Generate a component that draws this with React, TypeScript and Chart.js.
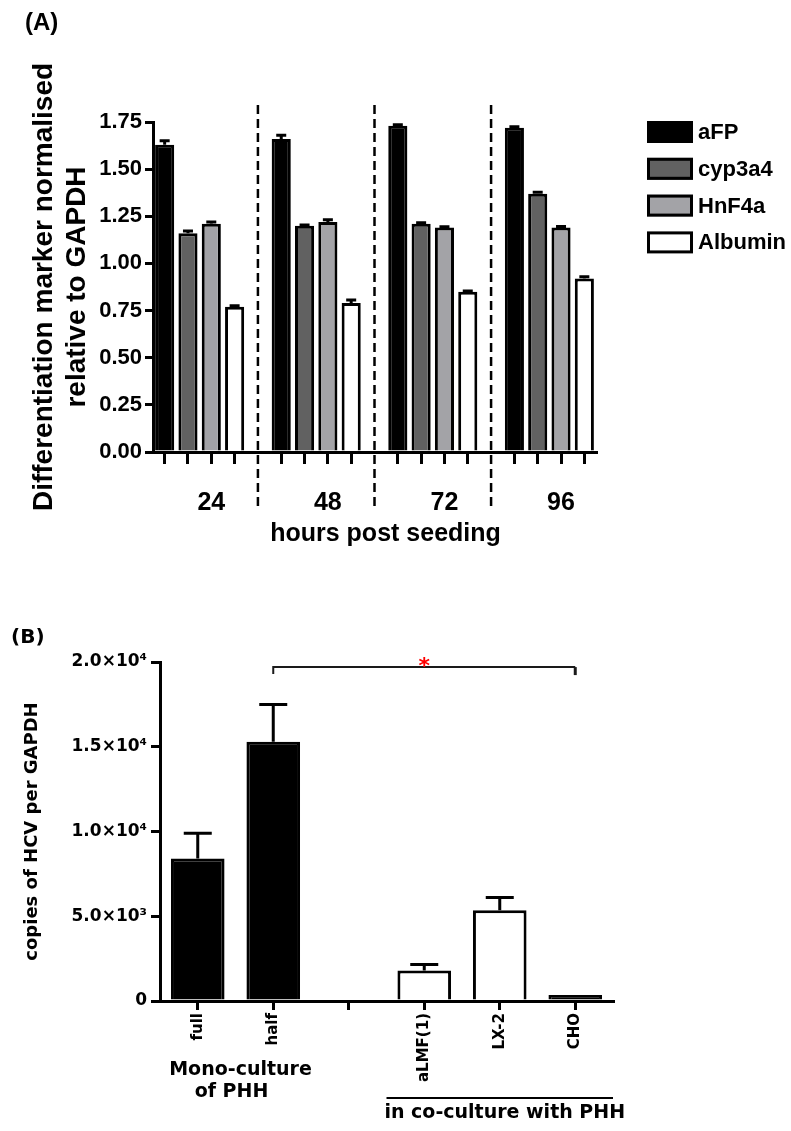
import React, { useEffect, useRef } from 'react';
import { Chart, registerables } from 'chart.js';

Chart.register(...registerables);

const SANS_A = '"Liberation Sans", Arial, Helvetica, sans-serif';
const SANS_B = '"DejaVu Sans", Verdana, sans-serif';

// ---------------- Panel A data ----------------
const hours = ['24', '48', '72', '96'];
const markers = ['aFP', 'cyp3a4', 'HnF4a', 'Albumin'];
const aFP = [1.63, 1.66, 1.73, 1.72];
const cyp3a4 = [1.16, 1.2, 1.21, 1.37];
const hnf4a = [1.21, 1.22, 1.19, 1.19];
const albumin = [0.77, 0.79, 0.85, 0.92];
const aFPErr = [0.02, 0.02, 0.006, 0.005];
const cyp3a4Err = [0.012, 0.004, 0.006, 0.008];
const hnf4aErr = [0.01, 0.012, 0.005, 0.006];
const albuminErr = [0.006, 0.016, 0.004, 0.01];
const markerColors = ['#000000', '#616161', '#a3a3a7', '#ffffff'];
const yMaxA = 1.75;
const yStepA = 0.25;
const xTitleA = 'hours post seeding';
const yTitleA = ['Differentiation marker normalised', 'relative to GAPDH'];

// ---------------- Panel B data ----------------
const conditions = ['full', 'half', '', 'aLMF(1)', 'LX-2', 'CHO'];
const hcvCopies: (number | null)[] = [8400, 15300, null, 1800, 5350, 350];
const hcvErr: (number | null)[] = [1500, 2200, null, 350, 750, 0];
const conditionColors = ['#000000', '#000000', '#ffffff', '#ffffff', '#ffffff', '#000000'];
const yTickValuesB = [0, 5000, 10000, 15000, 20000];
const yTickLabelsB = ['0', '5.0×10³', '1.0×10⁴', '1.5×10⁴', '2.0×10⁴'];
const yTitleB = 'copies of HCV per GAPDH';
const monoLabel = ['Mono-culture', 'of PHH'];
const coLabel = 'in co-culture with PHH';
const coGroup = [3, 5];
const monoGroup = [0, 1];
const bracket = { from: 1, to: 5, value: 19700, mark: '*' };

// ---------------- Panel A slot layout ----------------
const SLOTS_PER_GROUP = markers.length + 1;
const slotCount = hours.length * SLOTS_PER_GROUP - 1;
const slotLabels = Array.from({ length: slotCount }, (_, s) =>
  s % SLOTS_PER_GROUP === 2 ? hours[Math.floor(s / SLOTS_PER_GROUP)] : ''
);
const isGap = (s: number) => s % SLOTS_PER_GROUP === markers.length;
const toSlots = (vals: number[], m: number) =>
  Array.from({ length: slotCount }, (_, s) =>
    s % SLOTS_PER_GROUP === m ? vals[Math.floor(s / SLOTS_PER_GROUP)] : null
  );
const seriesA = [aFP, cyp3a4, hnf4a, albumin];
const errorsA = [aFPErr, cyp3a4Err, hnf4aErr, albuminErr];
const gapSlots = Array.from({ length: slotCount }, (_, s) => s).filter(isGap);

// ---------------- plugins ----------------
const errorBarsPlugin = {
  id: 'errorBars',
  afterDatasetsDraw(chart: any, _args: any, opts: any) {
    const { ctx } = chart;
    const yScale = chart.scales.y;
    chart.data.datasets.forEach((ds: any, d: number) => {
      const meta = chart.getDatasetMeta(d);
      meta.data.forEach((el: any, i: number) => {
        const v = ds.data[i];
        const e = ds.errors ? ds.errors[i] : null;
        if (v == null || !e) return;
        const top = yScale.getPixelForValue(v + e);
        ctx.save();
        ctx.strokeStyle = opts.color || '#000';
        ctx.lineWidth = opts.lineWidth || 3;
        ctx.beginPath();
        ctx.moveTo(el.x, el.y);
        ctx.lineTo(el.x, top);
        ctx.moveTo(el.x - opts.capWidth / 2, top);
        ctx.lineTo(el.x + opts.capWidth / 2, top);
        ctx.stroke();
        ctx.restore();
      });
    });
  },
};

const panelADecor = {
  id: 'panelADecor',
  afterDraw(chart: any) {
    const { ctx, chartArea } = chart;
    const xs = chart.scales.x;
    ctx.save();
    // dashed dividers between time points
    ctx.strokeStyle = '#000';
    ctx.lineWidth = 2.5;
    ctx.setLineDash([9, 5]);
    gapSlots.forEach((s) => {
      const x = xs.getPixelForValue(s);
      ctx.beginPath();
      ctx.moveTo(x, chartArea.top - 17);
      ctx.lineTo(x, chartArea.bottom + 58);
      ctx.stroke();
    });
    ctx.setLineDash([]);
    // x axis title
    ctx.fillStyle = '#000';
    ctx.font = `bold 25px ${SANS_A}`;
    ctx.textAlign = 'center';
    ctx.textBaseline = 'alphabetic';
    ctx.fillText(xTitleA, (chartArea.left + chartArea.right) / 2 + 11, chartArea.bottom + 89);
    // panel label
    ctx.font = `bold 24px ${SANS_A}`;
    ctx.textAlign = 'left';
    ctx.textBaseline = 'middle';
    ctx.fillText('(A)', 25, 23);
    // legend
    const lx = chartArea.right + 51;
    const ly0 = chartArea.top + 10;
    const rowGap = 36.8;
    const bw = 46;
    const bh = 22;
    chart.data.datasets.forEach((ds: any, i: number) => {
      const cy = ly0 + i * rowGap;
      ctx.fillStyle = ds.backgroundColor;
      ctx.fillRect(lx, cy - bh / 2, bw, bh);
      ctx.strokeStyle = '#000';
      ctx.lineWidth = 3;
      ctx.strokeRect(lx + 1.5, cy - bh / 2 + 1.5, bw - 3, bh - 3);
      ctx.fillStyle = '#000';
      ctx.font = `bold 22px ${SANS_A}`;
      ctx.textAlign = 'left';
      ctx.textBaseline = 'middle';
      ctx.fillText(ds.label, lx + bw + 5, cy + 1);
    });
    ctx.restore();
  },
};

const panelBDecor = {
  id: 'panelBDecor',
  afterDraw(chart: any) {
    const { ctx, chartArea } = chart;
    const xs = chart.scales.x;
    const ys = chart.scales.y;
    const catW = xs.getPixelForValue(1) - xs.getPixelForValue(0);
    ctx.save();
    // significance bracket
    const by = ys.getPixelForValue(bracket.value);
    const bx1 = xs.getPixelForValue(bracket.from);
    const bx2 = xs.getPixelForValue(bracket.to);
    ctx.strokeStyle = '#1a1a1a';
    ctx.lineWidth = 2;
    ctx.beginPath();
    ctx.moveTo(bx1, by + 7);
    ctx.lineTo(bx1, by);
    ctx.lineTo(bx2, by);
    ctx.stroke();
    ctx.lineWidth = 3;
    ctx.beginPath();
    ctx.moveTo(bx2, by);
    ctx.lineTo(bx2, by + 8);
    ctx.stroke();
    ctx.fillStyle = '#ff0000';
    ctx.font = `bold 22px ${SANS_B}`;
    ctx.textAlign = 'center';
    ctx.textBaseline = 'alphabetic';
    ctx.fillText(bracket.mark, (bx1 + bx2) / 2, by + 6);
    // group labels
    ctx.fillStyle = '#000';
    ctx.font = `bold 19px ${SANS_B}`;
    ctx.textBaseline = 'middle';
    const mx = (xs.getPixelForValue(monoGroup[0]) + xs.getPixelForValue(monoGroup[1])) / 2 + 1;
    ctx.fillText(monoLabel[0], mx + 4, chartArea.bottom + 69);
    ctx.fillText(monoLabel[1], mx - 5, chartArea.bottom + 91);
    const cx1 = xs.getPixelForValue(coGroup[0]) - catW / 2;
    const cx2 = xs.getPixelForValue(coGroup[1]) + catW / 2;
    ctx.strokeStyle = '#000';
    ctx.lineWidth = 2;
    ctx.beginPath();
    ctx.moveTo(cx1, chartArea.bottom + 97);
    ctx.lineTo(cx2, chartArea.bottom + 97);
    ctx.stroke();
    ctx.fillText(coLabel, (cx1 + cx2) / 2 + 5, chartArea.bottom + 112);
    // panel label
    ctx.font = `bold 20px ${SANS_B}`;
    ctx.textAlign = 'left';
    ctx.fillText('(B)', 11, 78);
    ctx.restore();
  },
};

// ---------------- configs ----------------
function makeConfigA(): any {
  return {
    type: 'bar',
    data: {
      labels: slotLabels,
      datasets: markers.map((name, m) => ({
        label: name,
        data: toSlots(seriesA[m], m),
        errors: toSlots(errorsA[m], m),
        backgroundColor: markerColors[m],
        borderColor: '#000000',
        borderWidth: 3,
        borderSkipped: 'start',
        grouped: false,
        categoryPercentage: 1,
        barPercentage: 0.82,
      })),
    },
    options: {
      animation: false,
      responsive: false,
      maintainAspectRatio: false,
      layout: { padding: { top: 122, right: 195, left: 0, bottom: 0 } },
      plugins: {
        legend: { display: false },
        tooltip: { enabled: false },
        errorBars: { capWidth: 10, lineWidth: 3, color: '#000' },
      },
      scales: {
        x: {
          type: 'category',
          offset: true,
          grid: {
            display: true,
            drawOnChartArea: false,
            offset: false,
            tickLength: 12,
            lineWidth: 3,
            color: (c: any) => (isGap(c.index) ? 'rgba(0,0,0,0)' : '#000000'),
          },
          border: { display: true, color: '#000000', width: 3 },
          ticks: {
            autoSkip: false,
            maxRotation: 0,
            minRotation: 0,
            padding: 24,
            color: '#000000',
            font: { family: SANS_A, size: 25, weight: 'bold' },
          },
          afterFit: (s: any) => {
            s.height = 108;
          },
        },
        y: {
          min: 0,
          max: yMaxA,
          ticks: {
            stepSize: yStepA,
            padding: 3,
            color: '#000000',
            font: { family: SANS_A, size: 22, weight: 'bold' },
            callback: (v: any) => Number(v).toFixed(2),
          },
          grid: { drawOnChartArea: false, tickLength: 8, lineWidth: 3, color: '#000000' },
          border: { display: true, color: '#000000', width: 3 },
          title: {
            display: true,
            text: yTitleA,
            color: '#000000',
            font: { family: SANS_A, size: 28, weight: 'bold', lineHeight: 1.18 },
            padding: { top: 27.5, bottom: 0 },
          },
          afterFit: (s: any) => {
            s.width = 153;
          },
        },
      },
    },
    plugins: [errorBarsPlugin, panelADecor],
  };
}

function makeConfigB(): any {
  return {
    type: 'bar',
    data: {
      labels: conditions,
      datasets: [
        {
          label: 'HCV',
          data: hcvCopies,
          errors: hcvErr,
          backgroundColor: conditionColors,
          borderColor: '#000000',
          borderWidth: 3,
          borderSkipped: 'start',
          categoryPercentage: 1,
          barPercentage: 0.71,
        },
      ],
    },
    options: {
      animation: false,
      responsive: false,
      maintainAspectRatio: false,
      layout: { padding: { top: 102, right: 178, left: 0, bottom: 0 } },
      plugins: {
        legend: { display: false },
        tooltip: { enabled: false },
        errorBars: { capWidth: 28, lineWidth: 3, color: '#000' },
      },
      scales: {
        x: {
          type: 'category',
          offset: true,
          grid: {
            display: true,
            drawOnChartArea: false,
            offset: false,
            tickLength: 9,
            lineWidth: 3,
            color: '#000000',
          },
          border: { display: true, color: '#000000', width: 3 },
          ticks: {
            autoSkip: false,
            minRotation: 90,
            maxRotation: 90,
            padding: 3,
            color: '#000000',
            font: { family: SANS_B, size: 15, weight: 'bold' },
          },
          afterFit: (s: any) => {
            s.height = 130;
          },
        },
        y: {
          min: yTickValuesB[0],
          max: yTickValuesB[yTickValuesB.length - 1],
          ticks: {
            stepSize: yTickValuesB[1] - yTickValuesB[0],
            padding: 4,
            color: '#000000',
            font: { family: SANS_B, size: 17, weight: 'bold' },
            callback: (v: any) => {
              const i = yTickValuesB.indexOf(Number(v));
              return i >= 0 ? yTickLabelsB[i] : '';
            },
          },
          grid: { drawOnChartArea: false, tickLength: 9, lineWidth: 3, color: '#000000' },
          border: { display: true, color: '#000000', width: 3 },
          title: {
            display: true,
            text: yTitleB,
            color: '#000000',
            font: { family: SANS_B, size: 18, weight: 'bold', lineHeight: 1.2 },
            padding: { top: 22, bottom: 0 },
          },
          afterFit: (s: any) => {
            s.width = 160;
          },
        },
      },
    },
    plugins: [errorBarsPlugin, panelBDecor],
  };
}

function ChartCanvas({ top, width, height, makeConfig }: any) {
  const ref = useRef<HTMLCanvasElement | null>(null);
  useEffect(() => {
    if (!ref.current) return;
    const chart = new Chart(ref.current, makeConfig());
    return () => chart.destroy();
  }, []);
  return (
    <canvas
      ref={ref}
      width={width}
      height={height}
      style={{ position: 'absolute', left: 0, top, width, height, display: 'block' }}
    />
  );
}

export default function App() {
  return (
    <div style={{ position: 'absolute', left: 0, top: 0, width: 791, height: 1131, background: '#fff', overflow: 'hidden' }}>
      <ChartCanvas top={0} width={791} height={560} makeConfig={makeConfigA} />
      <ChartCanvas top={560} width={791} height={571} makeConfig={makeConfigB} />
    </div>
  );
}
